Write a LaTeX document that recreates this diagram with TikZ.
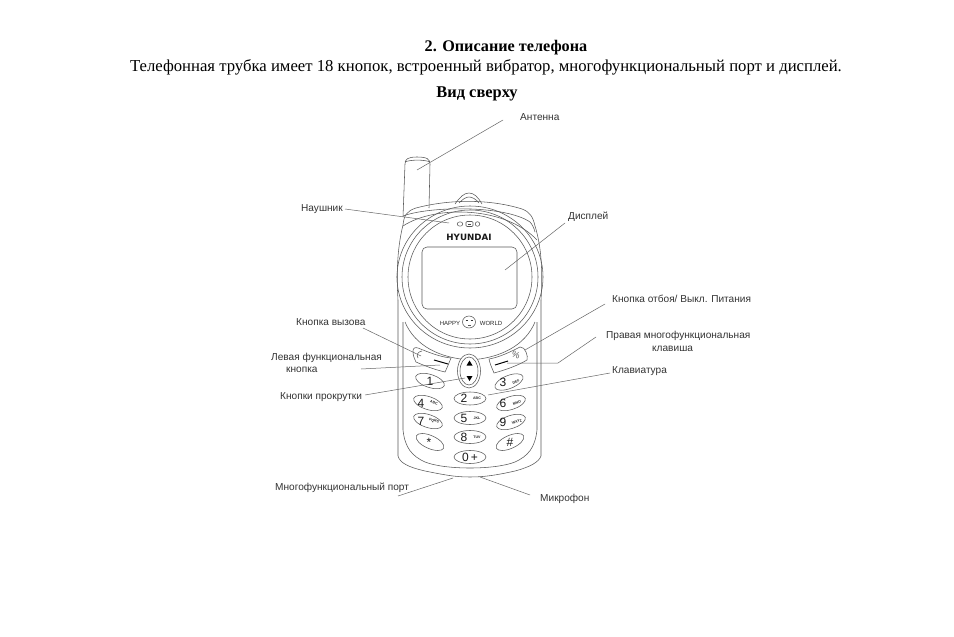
\documentclass[tikz,border=0pt]{standalone}
\usepackage{fontspec}
\setmainfont{Liberation Serif}
\newfontfamily\lblfont{Liberation Sans}
\newfontfamily\brandfont{DejaVu Sans}
\tikzset{
  x=1pt,y=-1pt,
  ln/.style={draw=black!65,line width=0.55pt},
  leader/.style={draw=black!60,line width=0.5pt},
  lbl/.style={font=\lblfont\fontsize{10.1}{12}\selectfont,text=black!80,inner sep=0pt,anchor=west,yshift=-1pt},
  keyt/.style={font=\lblfont\fontsize{12}{12}\selectfont,inner sep=0pt,text=black!90},
  keys/.style={font=\lblfont\bfseries\fontsize{3.6}{4}\selectfont,inner sep=0pt,text=black!85},
  ttl/.style={inner sep=0pt,text=black,yshift=-1pt}
}
\begin{document}
\begin{tikzpicture}
\useasboundingbox (0,0) rectangle (954,637);
\fill[white] (0,0) rectangle (954,637);
% titles
\node[ttl,font=\bfseries\fontsize{16.2}{18}\selectfont] (t1) at (506,47) {2. Описание телефона};
\node[ttl,font=\fontsize{16.7}{18}\selectfont] (t2) at (486,66) {Телефонная трубка имеет 18 кнопок, встроенный вибратор, многофункциональный порт и дисплей.};
\node[ttl,font=\bfseries\fontsize{16.4}{18}\selectfont] (t3) at (477,93) {Вид сверху};
% antenna
\draw[ln] (403,217) -- (405,164) .. controls (405,159) and (408,157) .. (417,157) .. controls (427,157) and (430,159) .. (430,164) -- (429,208);
\draw[ln] (405,162) .. controls (410,159.5) and (425,159.5) .. (430,162);
% loop
\draw[ln] (455,204) .. controls (460,197) and (464,193) .. (469,193) .. controls (474,193) and (478,197) .. (482,204);
\draw[ln] (459,203) .. controls (463,199) and (466,197) .. (469,197) .. controls (472,197) and (476,199) .. (479,203);
% head outline
\draw[ln] (398,300) .. controls (396,270) and (398,245) .. (403,225) .. controls (404,215) and (407,211) .. (416,208)
  .. controls (450,199) and (490,199) .. (522,209) .. controls (530,212) and (533,217) .. (535,226)
  .. controls (541,245) and (543,270) .. (541,300);
\draw[ln] (403,216) .. controls (430,206) and (505,205) .. (530,222) .. controls (532,224) and (534,228) .. (535,232);
\draw[ln] (403,226) .. controls (435,205) and (505,206) .. (537,240);
% rings
\draw[ln] (470,277) circle[x radius=73,y radius=71];
\draw[ln] (470,277) circle[x radius=68,y radius=67];
\draw[ln] (470,277) circle[x radius=62,y radius=62];
% screen
\draw[ln,rounded corners=5pt] (422,247) rectangle (517,309);
% speaker
\draw[ln] (460,224) circle[x radius=2.8,y radius=2.2];
\draw[ln,rounded corners=1pt] (466,221.5) rectangle (473,226.5);
\draw[ln] (477.5,224) circle[radius=2.3];
\fill[black!70] (468,223.6) rectangle (471,224.4);
% brand
\node[font=\brandfont\bfseries\fontsize{8.7}{10}\selectfont,inner sep=0pt,text=black!90] (brand) at (469,237) {HYUNDAI};
\node[font=\lblfont\fontsize{6}{6}\selectfont,inner sep=0pt,text=black!85] (happy) at (450,323) {HAPPY};
\node[font=\lblfont\fontsize{6}{6}\selectfont,inner sep=0pt,text=black!85] (world) at (491,323) {WORLD};
\draw[ln] (469,322) circle[x radius=6.5,y radius=6];
\draw[black!80,line width=0.7pt] (465.5,320) -- (467.5,320) (470.5,320) -- (472.5,320);
\draw[ln] (468,325) -- (471,325);
% body sides
\draw[ln] (398,300) -- (398,456) .. controls (400,463) and (408,467) .. (425,471) .. controls (445,475) and (455,477) .. (470,477) .. controls (485,477) and (497,475) .. (515,471) .. controls (530,467) and (539,462) .. (541,456) -- (541,300);
\draw[ln] (403,322) -- (403,430) .. controls (405,448) and (412,456) .. (425,462) .. controls (445,470) and (495,470) .. (515,462) .. controls (528,456) and (535,448) .. (537,430) -- (537,322);
\draw[ln] (405,322) .. controls (415,346) and (440,358) .. (470,360) .. controls (500,358) and (525,346) .. (535,322);
% soft keys
\draw[ln,fill=white] (413,351) .. controls (413,348) and (415,347) .. (418,348) .. controls (428,352) and (440,357) .. (451,358) .. controls (449,363) and (447,368) .. (445,372) .. controls (436,370) and (425,366) .. (416,362) .. controls (414,358) and (413,355) .. (413,351) -- cycle;
\draw[black,line width=1pt] (434,360) -- (448,364);
\draw[ln] (418,358) .. controls (416,354) and (418,352) .. (422,351);
\draw[ln,fill=white] (489,359) .. controls (500,357) and (510,352) .. (520,347) .. controls (523,347) and (525,349) .. (526,352) .. controls (527,355) and (528,358) .. (527,360) .. controls (517,366) and (505,370) .. (494,373) .. controls (492,368) and (490,364) .. (489,359) -- cycle;
\draw[black,line width=1pt] (495,365) -- (508,361);
\node[font=\lblfont\fontsize{9}{9}\selectfont,inner sep=0pt,text=black!65,rotate=-20] (pow) at (516,355) {\%};
% scroll
\draw[ln,fill=white] (469,371) circle[x radius=11.5,y radius=17];
\draw[ln] (469,371) circle[x radius=9,y radius=14];
\fill[black] (469.5,360.5) -- (472.5,365.5) -- (466.5,365.5) -- cycle;
\fill[black] (469.5,381) -- (472.5,376) -- (466.5,376) -- cycle;
% keys
\foreach \nm/\cx/\cy/\rot/\rx/\lab/\sm/\tx/\sx in {
  k1/430/381/-18/15/1//430/0,
  k4/428/403/-18/15/4/ABC/421/434,
  k7/428/421/-18/15/7/PQRS/421/434,
  kS/430/442/-24/15/*//429/0,
  k2/470/398.5/0/16/2/ABC/464/477,
  k5/470/418/0/16/5/JKL/464/477,
  k8/470/437/0/16/8/TUV/464/477,
  k0/470/457/0/16/0\,+//470/0,
  k3/509/382/22/15/3/DEF/503/516,
  k6/511/403/18/15/6/MNO/503/517,
  k9/511/422/18/15/9/WXYZ/503/517,
  kH/510/442/24/15/\#//510/0}{
  \draw[ln,fill=white,rotate around={\rot:(\cx,\cy)}] (\cx,\cy) circle[x radius=\rx,y radius=6.5];
  \node[keyt] (\nm) at (\tx,\cy) {\lab};
  \ifnum\sx>0 \node[keys,rotate=\rot] (\nm s) at (\sx,\cy) {\sm};\fi
}
% labels
\node[lbl] (ant) at (520,116) {Антенна};
\node[lbl] (nau) at (301,208) {Наушник};
\node[lbl] (dis) at (568,216) {Дисплей};
\node[lbl] (kv) at (296,321.5) {Кнопка вызова};
\node[lbl] (lf) at (271,357) {Левая функциональная};
\node[lbl] (lf2) at (286,369) {кнопка};
\node[lbl] (kp) at (280,396) {Кнопки прокрутки};
\node[lbl] (por) at (275,487) {Многофункциональный порт};
\node[lbl] (mic) at (540,498) {Микрофон};
\node[lbl] (off) at (612,298) {Кнопка отбоя/ Выкл. Питания};
\node[lbl] (pr) at (606,335) {Правая многофункциональная};
\node[lbl] (pr2) at (652,347.5) {клавиша};
\node[lbl] (kl) at (612,370) {Клавиатура};
% leader ends
\coordinate (eAnt) at (417,170);
\coordinate (sAnt) at (503,120);
\coordinate (sNau) at (345,209);
\coordinate (eNau) at (449,223);
\coordinate (sDis) at (565,223);
\coordinate (eDis) at (505,270);
\coordinate (sKv) at (363,328);
\coordinate (eKv) at (421,356);
\coordinate (sLf) at (361,369);
\coordinate (eLf) at (440,365);
\coordinate (sKp) at (365,395);
\coordinate (eKp) at (465,378);
\coordinate (sPor) at (398,496);
\coordinate (ePor) at (453,478);
\coordinate (sMic) at (530,495);
\coordinate (eMic) at (480,477);
\coordinate (sOff) at (605,304);
\coordinate (eOff) at (525,350);
\coordinate (sPr) at (596,337);
\coordinate (mPr) at (558,363);
\coordinate (ePr) at (507,363);
\coordinate (sKl) at (610,373);
\coordinate (eKl) at (488,395);
\draw[leader] (sAnt) -- (eAnt);
\draw[leader] (sNau) -- (eNau);
\draw[leader] (sDis) -- (eDis);
\draw[leader] (sKv) -- (eKv);
\draw[leader] (sLf) -- (eLf);
\draw[leader] (sKp) -- (eKp);
\draw[leader] (sPor) -- (ePor);
\draw[leader] (sMic) -- (eMic);
\draw[leader] (sOff) -- (eOff);
\draw[leader] (sPr) -- (mPr) -- (ePr);
\draw[leader] (sKl) -- (eKl);
\end{tikzpicture}
\end{document}
